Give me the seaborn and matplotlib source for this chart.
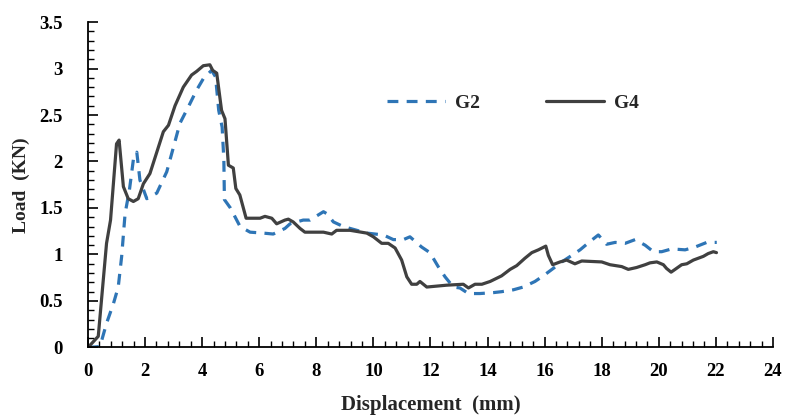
import matplotlib
matplotlib.use("Agg")
import matplotlib.pyplot as plt
from matplotlib.ticker import MultipleLocator
import pandas as pd
import seaborn as sns

# Load-displacement readings for the two specimens
g2_disp = [0, 0.42, 0.65, 0.89, 1.06, 1.18, 1.30, 1.45, 1.59, 1.71, 1.82, 2.06, 2.41, 2.76, 3.0,
           3.22, 3.52, 3.81, 4.04, 4.33, 4.47, 4.58, 4.70, 4.76, 4.78, 4.99, 5.33, 5.68, 6.14, 6.49,
           6.90, 7.08, 7.54, 7.78, 8.25, 8.36, 8.60, 8.95, 9.77, 10.35, 10.70, 11.05, 11.28, 11.69,
           11.98, 12.27, 12.51, 12.80, 13.03, 13.33, 13.73, 14.20, 14.49, 14.90, 15.25, 15.66, 15.95,
           16.30, 16.60, 16.95, 17.24, 17.59, 17.88, 18.17, 18.47, 18.82, 19.17, 19.52, 19.81, 20.10,
           20.45, 20.92, 21.27, 21.68, 22.03]
g2_load = [0, 0.01, 0.26, 0.47, 0.65, 0.98, 1.44, 1.69, 2.02, 2.10, 1.80, 1.60, 1.66, 1.89, 2.16,
           2.41, 2.59, 2.77, 2.89, 2.98, 2.91, 2.55, 2.37, 2.02, 1.59, 1.50, 1.30, 1.24, 1.23, 1.22,
           1.28, 1.33, 1.37, 1.37, 1.46, 1.44, 1.35, 1.30, 1.23, 1.21, 1.16, 1.16, 1.19, 1.08,
           1.02, 0.87, 0.76, 0.65, 0.64, 0.58, 0.58, 0.59, 0.60, 0.62, 0.65, 0.71, 0.77,
           0.85, 0.92, 0.99, 1.05, 1.14, 1.21, 1.11, 1.13, 1.12, 1.16, 1.10, 1.03, 1.03,
           1.06, 1.05, 1.08, 1.13, 1.13]

g4_disp = [0, 0.36, 0.65, 0.79, 1.0, 1.09, 1.24, 1.41, 1.59, 1.76, 1.94, 2.17, 2.64, 2.82, 3.05,
           3.34, 3.63, 3.81, 4.04, 4.27, 4.37, 4.51, 4.68, 4.80, 4.92, 5.09, 5.18, 5.32, 5.54, 5.73,
           6.03, 6.20, 6.44, 6.61, 6.90, 7.02, 7.19, 7.43, 7.60, 8.25, 8.54, 8.71, 9.18, 9.77, 10.0,
           10.29, 10.52, 10.76, 10.99, 11.17, 11.34, 11.52, 11.63, 11.87, 12.22, 12.57, 13.15, 13.33,
           13.56, 13.80, 14.09, 14.49, 14.79, 15.02, 15.31, 15.55, 15.78, 16.04, 16.13, 16.28, 16.54,
           16.77, 17.06, 17.30, 18.0, 18.29, 18.70, 18.93, 19.22, 19.52, 19.69, 19.93, 20.16, 20.27,
           20.43, 20.57, 20.80, 20.98, 21.21, 21.56, 21.73, 21.91, 22.02]
g4_load = [0, 0.12, 1.12, 1.37, 2.19, 2.23, 1.73, 1.60, 1.57, 1.60, 1.76, 1.87, 2.32, 2.39, 2.60,
           2.80, 2.93, 2.97, 3.03, 3.04, 2.98, 2.95, 2.55, 2.46, 1.96, 1.93, 1.71, 1.64, 1.39, 1.39,
           1.39, 1.41, 1.39, 1.33, 1.37, 1.38, 1.35, 1.28, 1.24, 1.24, 1.22, 1.26, 1.26, 1.23, 1.19,
           1.12, 1.12, 1.07, 0.94, 0.76, 0.68, 0.68, 0.71, 0.65, 0.66, 0.67, 0.68, 0.64,
           0.68, 0.68, 0.71, 0.77, 0.84, 0.88, 0.96, 1.02, 1.05, 1.09, 0.99, 0.89, 0.92,
           0.94, 0.90, 0.93, 0.92, 0.89, 0.87, 0.84, 0.86, 0.89, 0.91, 0.92, 0.89, 0.85,
           0.81, 0.84, 0.89, 0.90, 0.94, 0.98, 1.01, 1.03, 1.02]

series_names = ["G2", "G4"]

df = pd.concat([
    pd.DataFrame({"disp": g2_disp, "load": g2_load, "specimen": series_names[0]}),
    pd.DataFrame({"disp": g4_disp, "load": g4_load, "specimen": series_names[1]}),
], ignore_index=True)

sns.set_style("white")
plt.rcParams["font.family"] = ["Liberation Serif", "DejaVu Serif"]
plt.rcParams["font.weight"] = "bold"

fig = plt.figure(figsize=(7.87, 4.16), dpi=100)
ax = fig.add_axes([0.1118, 0.1647, 0.8704, 0.7824])

palette = {"G2": "#2E75B6", "G4": "#404040"}
dashes = {"G2": (3.4, 2.6), "G4": ""}
sns.lineplot(data=df, x="disp", y="load", hue="specimen", style="specimen",
             palette=palette, dashes=dashes, sort=False, estimator=None,
             linewidth=2.3, ax=ax)

ax.set_xlim(0, 24)
ax.set_ylim(0, 3.5)
ax.xaxis.set_major_locator(MultipleLocator(2))
ax.xaxis.set_minor_locator(MultipleLocator(0.4))
ax.yaxis.set_major_locator(MultipleLocator(0.5))
ax.yaxis.set_minor_locator(MultipleLocator(0.1))
ax.yaxis.set_major_formatter(plt.FuncFormatter(lambda v, _: f"{v:g}"))

ax.tick_params(which="both", direction="in", colors="black", labelsize=13.5,
               bottom=True, left=True, top=False, right=False)
ax.tick_params(which="major", length=7, width=1.2)
ax.tick_params(which="minor", length=4, width=1.0)
ax.tick_params(axis="x", which="major", pad=11)
ax.tick_params(axis="y", which="major", pad=18)
for lbl in ax.get_xticklabels() + ax.get_yticklabels():
    lbl.set_fontweight("bold")

for side in ["top", "right"]:
    ax.spines[side].set_visible(False)
for side in ["left", "bottom"]:
    ax.spines[side].set_color("black")
    ax.spines[side].set_linewidth(1.3)

ax.set_xlabel("Displacement  (mm)", fontsize=15, fontweight="bold", labelpad=11)
ax.set_ylabel("Load  (KN)", fontsize=14, fontweight="bold", labelpad=6.5)

leg = ax.legend(ncol=2, frameon=False, loc="center", bbox_to_anchor=(0.62, 0.75),
                handlelength=3.0, columnspacing=3.4, handletextpad=0.5,
                prop={"family": "Liberation Serif", "weight": "bold", "size": 14})

fig.savefig("out.png", dpi=100)
